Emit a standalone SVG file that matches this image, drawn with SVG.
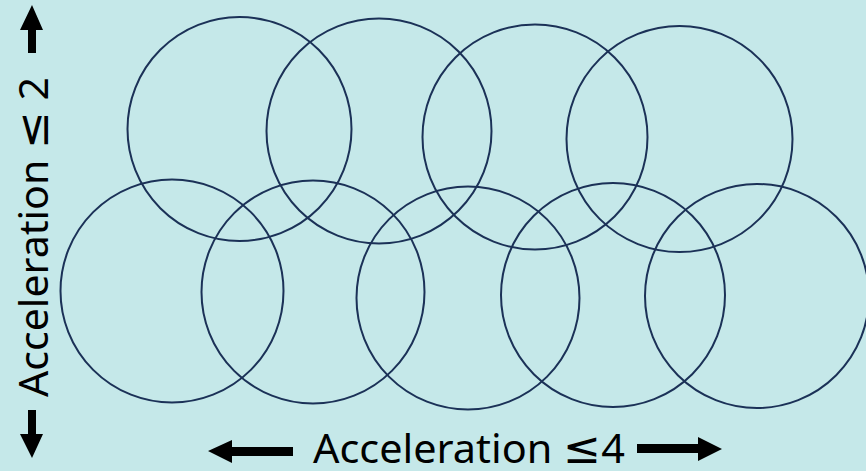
<svg xmlns="http://www.w3.org/2000/svg" width="866" height="471" viewBox="0 0 866 471">
<style>
.c{fill:none;stroke:#1B3157;stroke-width:2}
.t{font-family:"Noto Sans","Liberation Sans",Arial,sans-serif;font-size:40px;fill:#000;font-variant-ligatures:none}
.m{font-family:"DejaVu Sans",sans-serif;font-size:44px}
.a{fill:#000}
</style>
<rect width="866" height="471" fill="#C5E8E9"/>
<g id="circles">
<g id="top1"><circle class="c" cx="239.5" cy="129" r="112"/></g>
<g id="top2"><circle class="c" cx="379" cy="131" r="112.5"/></g>
<g id="top3"><circle class="c" cx="535" cy="137" r="112.5"/></g>
<g id="top4"><circle class="c" cx="679.5" cy="139" r="113"/></g>
<g id="bot1"><circle class="c" cx="172" cy="291" r="111.5"/></g>
<g id="bot2"><circle class="c" cx="313" cy="292" r="111.5"/></g>
<g id="bot3"><circle class="c" cx="468" cy="298" r="111.5"/></g>
<g id="bot4"><circle class="c" cx="613" cy="295" r="112"/></g>
<g id="bot5"><circle class="c" cx="757" cy="296" r="112"/></g>
</g>
<g id="connectors">
<polygon class="a" points="32,5 43,30 36,30 36,53 28,53 28,30 20,30"/>
<polygon class="a" points="32,458 43,434 36,434 36,410 28,410 28,434 20,434"/>
<polygon class="a" points="208,451 232,440 232,447 293,447 293,456 232,456 232,463"/>
<polygon class="a" points="722,449 698,437 698,444 637,444 637,453 698,453 698,461"/>
</g>
<g id="labels">
<text class="t" x="313" y="463" textLength="312" lengthAdjust="spacingAndGlyphs">Acceleration <tspan class="m">≤</tspan>4</text>
<text class="t" transform="translate(48,397) rotate(-90)" x="0" y="0" textLength="320" lengthAdjust="spacingAndGlyphs">Acceleration <tspan class="m">≤</tspan> 2</text>
</g>
</svg>
